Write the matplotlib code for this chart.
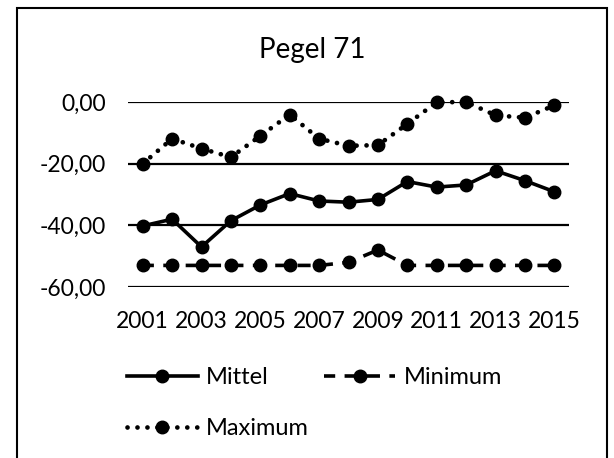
import numpy as np
import matplotlib
matplotlib.use("Agg")
import matplotlib.pyplot as plt
from matplotlib.patches import Rectangle
from matplotlib.ticker import FuncFormatter

plt.rcParams['font.family'] = ['Lato', 'DejaVu Sans']

years = np.arange(2001, 2016)
mittel = [-40.2, -38.0, -47.0, -38.5, -33.4, -29.7, -32.1, -32.5, -31.6, -25.8, -27.6, -26.9, -22.3, -25.5, -29.1]
minimum = [-53, -53, -53, -53, -53, -53, -53, -52, -48, -53, -53, -53, -53, -53, -53]
maximum = [-20.0, -11.9, -15.1, -17.9, -11.0, -4.1, -11.9, -14.2, -14.0, -7.1, -0.1, 0.0, -4.3, -5.1, -1.1]
xtick_years = [2001, 2003, 2005, 2007, 2009, 2011, 2013, 2015]

W, H = 614, 458
fig = plt.figure(figsize=(W / 100, H / 100), dpi=100)
ax = fig.add_axes([128 / W, 1 - 287 / H, (569 - 128) / W, (287 - 102) / H])

x = np.arange(1, len(years) + 1)
ms = 9
l1, = ax.plot(x, mittel, color='black', lw=2.6, marker='o', ms=ms, clip_on=False,
              solid_joinstyle='round', zorder=3)
l2, = ax.plot(x, minimum, color='black', lw=2.6, marker='o', ms=ms, clip_on=False,
              linestyle=(0.5, (3.6, 2.6)), dash_capstyle='butt', zorder=3)
l3, = ax.plot(x, maximum, color='black', lw=3.4, marker='o', ms=ms, clip_on=False,
              linestyle=(0, (0.01, 2.1)), dash_capstyle='round', zorder=3)

ax.set_xlim(0.5, len(years) + 0.5)
ax.set_ylim(-60, 0)
ax.set_yticks([-60, -40, -20, 0])
ax.yaxis.set_major_formatter(FuncFormatter(lambda v, p: f"{v:.2f}".replace('.', ',')))
ax.set_xticks([x[list(years).index(y)] for y in xtick_years])
ax.set_xticklabels([str(y) for y in xtick_years])
ax.tick_params(axis='both', length=0, labelsize=16.5)
ax.tick_params(axis='y', pad=16)
ax.tick_params(axis='x', pad=17.5)
ax.grid(axis='y', color='black', lw=1.6)
ax.set_axisbelow(True)
for s in ax.spines.values():
    s.set_visible(False)

fig.text(312 / W, 1 - 58 / H, "Pegel 71", ha='center', va='baseline', fontsize=20)

leg = fig.legend([l1, l3, l2], ["Mittel", "Maximum", "Minimum"], ncol=2,
                 loc='upper left', bbox_to_anchor=(127 / W, 1 - 367 / H),
                 frameon=False, fontsize=17, handlelength=3.0, handletextpad=0.35,
                 columnspacing=0.65, labelspacing=1.27, borderpad=0, borderaxespad=0)

fig.patches.append(Rectangle((17 / W, -0.05), (607 - 17) / W, 1 - 8 / H + 0.05,
                             transform=fig.transFigure, fill=False, ec='black', lw=1.5))

fig.savefig("out.png", dpi=100)
